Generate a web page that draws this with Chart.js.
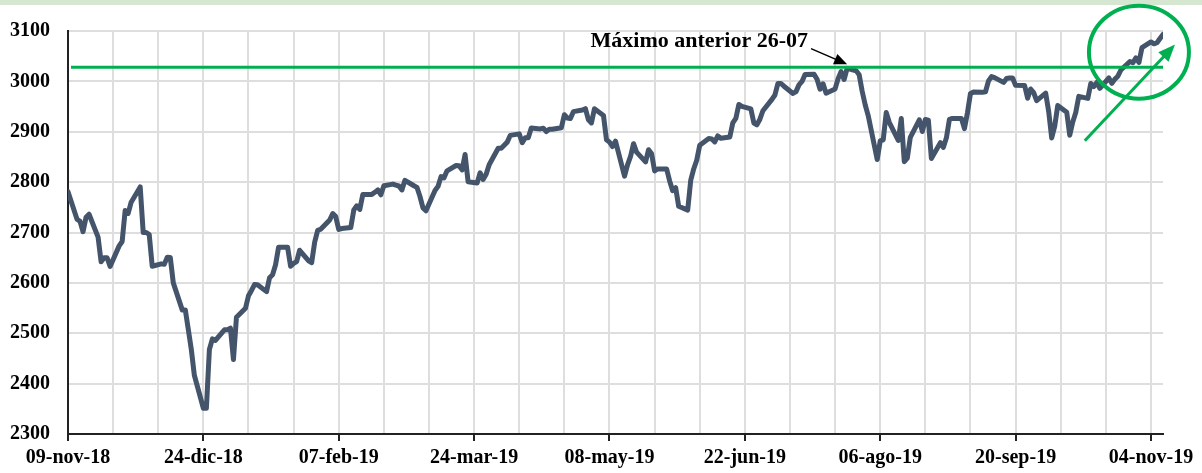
<!DOCTYPE html>
<html>
<head>
<meta charset="utf-8">
<script src="https://cdn.jsdelivr.net/npm/chart.js@4.4.1/dist/chart.umd.min.js"></script>
<style>
  body { margin: 0; background: #fff; }
  canvas { display: block; }
</style>
</head>
<body>
<canvas id="grafico" width="1202" height="473"></canvas>
<script>
// cierres diarios, un valor por dia laborable (los festivos repiten el cierre anterior)
var nov18 = [2781.01, 2726.22, 2722.18, 2701.58, 2730.20, 2736.27, 2690.73, 2641.89, 2649.93, 2649.93,
             2632.56, 2673.45, 2682.17, 2743.79, 2737.80, 2760.17];               // desde el 09-nov
var dic18 = [2790.37, 2700.06, 2700.06, 2695.95, 2633.08, 2637.72, 2636.78, 2651.07, 2650.54, 2599.95,
             2545.94, 2546.16, 2506.96, 2467.42, 2416.62, 2351.10, 2351.10, 2467.70, 2488.83, 2485.74, 2506.85];
var ene19 = [2506.85, 2510.03, 2447.89, 2531.94, 2549.69, 2574.41, 2584.96, 2596.64, 2596.26, 2582.61,
             2610.30, 2616.10, 2635.96, 2670.71, 2670.71, 2632.90, 2638.70, 2642.33, 2664.76, 2643.85,
             2640.00, 2681.05, 2704.10];
var feb19 = [2706.53, 2724.87, 2737.70, 2731.61, 2706.05, 2707.88, 2709.80, 2744.73, 2753.03, 2745.73,
             2775.60, 2775.60, 2779.76, 2784.70, 2774.88, 2792.67, 2796.11, 2793.90, 2792.38, 2784.49];
var mar19 = [2803.69, 2792.81, 2789.65, 2771.45, 2748.93, 2743.07, 2783.30, 2791.52, 2810.92, 2808.48,
             2822.48, 2832.94, 2832.57, 2824.23, 2854.88, 2800.71, 2798.36, 2818.46, 2805.37, 2815.44, 2834.40];
var abr19 = [2867.19, 2867.24, 2873.40, 2879.39, 2892.74, 2895.77, 2878.20, 2888.21, 2888.32, 2907.41,
             2905.58, 2907.06, 2900.45, 2905.03, 2905.03, 2907.97, 2933.68, 2927.25, 2926.17, 2939.88,
             2943.03, 2945.83];
var may19 = [2923.73, 2917.52, 2945.64, 2932.47, 2884.05, 2879.42, 2870.72, 2881.40, 2811.87, 2834.41,
             2850.96, 2876.32, 2859.53, 2840.23, 2864.36, 2856.27, 2822.24, 2826.06, 2826.06, 2802.39,
             2783.02, 2788.86, 2752.06];
var jun19 = [2744.45, 2803.27, 2826.15, 2843.49, 2873.34, 2886.73, 2885.72, 2879.84, 2891.64, 2886.98,
             2889.67, 2917.75, 2926.46, 2954.18, 2950.46, 2945.35, 2917.38, 2913.78, 2924.92, 2941.76];
var jul19 = [2964.33, 2973.01, 2995.82, 2995.82, 2990.41, 2975.95, 2979.63, 2993.07, 2999.91, 3013.77,
             3014.30, 3004.04, 2984.42, 2995.11, 2976.61, 2985.03, 3005.47, 3019.56, 3003.67, 3025.86,
             3020.97, 3013.18, 2980.38];
var ago19 = [2953.56, 2932.05, 2844.74, 2881.77, 2883.98, 2938.09, 2918.65, 2882.70, 2926.32, 2840.60,
             2847.60, 2888.68, 2923.65, 2900.51, 2924.43, 2922.95, 2847.11, 2878.38, 2869.16, 2887.94,
             2924.58, 2926.46];
var sep19 = [2926.46, 2906.27, 2937.78, 2976.00, 2978.71, 2978.43, 2979.39, 3000.93, 3009.57, 3007.39,
             2997.96, 3005.70, 3006.73, 3006.79, 2992.07, 2991.78, 2966.60, 2984.87, 2977.62, 2961.79, 2976.74];
var oct19 = [2940.25, 2887.61, 2910.63, 2952.01, 2938.79, 2893.06, 2919.40, 2938.13, 2970.27, 2966.15,
             2995.68, 2989.69, 2997.95, 2986.20, 3006.72, 2995.99, 3004.52, 3010.29, 3022.55, 3039.42,
             3036.89, 3046.77, 3037.56];
var nov19 = [3066.91, 3078.27, 3074.62, 3076.78, 3085.18, 3093.08];               // hasta el 08-nov

// [año, mes (0-11), primer dia, cierres]
var meses = [[2018, 10, 9, nov18], [2018, 11, 1, dic18], [2019, 0, 1, ene19], [2019, 1, 1, feb19],
             [2019, 2, 1, mar19], [2019, 3, 1, abr19], [2019, 4, 1, may19], [2019, 5, 1, jun19],
             [2019, 6, 1, jul19], [2019, 7, 1, ago19], [2019, 8, 1, sep19], [2019, 9, 1, oct19],
             [2019, 10, 1, nov19]];

var nombresMes = ['ene','feb','mar','abr','may','jun','jul','ago','sep','oct','nov','dic'];
var yTicks = [2300, 3100, 100];          // min, max, paso
var diaFinal = '2019-11-08';

// anotaciones
var maximoAnterior = 3028;               // cierre maximo del 26-07
var textoMaximo = 'Máximo anterior 26-07';
var flechaNegra = [['2019-07-14', 3065], ['2019-07-26', 3034]];
var posTexto = ['2019-07-13', 3079];
var circulo = ['2019-10-31', 3058];
var flechaVerde = [['2019-10-13', 2882], ['2019-11-12', 3073]];

var inicio = Date.UTC(2018, 10, 9);
function diaDe(s) {
    var p = s.split('-');
    return (Date.UTC(+p[0], +p[1] - 1, +p[2]) - inicio) / 86400000;
}
function etiqueta(v) {
    var d = new Date(inicio + v * 86400000);
    var dd = ('0' + d.getUTCDate()).slice(-2);
    return dd + '-' + nombresMes[d.getUTCMonth()] + '-' + String(d.getUTCFullYear()).slice(-2);
}

var puntos = [];
meses.forEach(function(m) {
    var dia = m[2];
    m[3].forEach(function(v) {
        var f = new Date(Date.UTC(m[0], m[1], dia));
        while (f.getUTCDay() == 0 || f.getUTCDay() == 6) {
            dia++;
            f = new Date(Date.UTC(m[0], m[1], dia));
        }
        puntos.push({x: (f.getTime() - inicio) / 86400000, y: v});
        dia++;
    });
});

var verde = '#00B050';
var fuente = '"Liberation Serif", "Times New Roman", serif';

function flecha(ctx, x1, y1, x2, y2, largo, ancho) {
    var a = Math.atan2(y2 - y1, x2 - x1);
    ctx.beginPath();
    ctx.moveTo(x1, y1);
    ctx.lineTo(x2 - Math.cos(a) * largo * 0.8, y2 - Math.sin(a) * largo * 0.8);
    ctx.stroke();
    ctx.beginPath();
    ctx.moveTo(x2, y2);
    ctx.lineTo(x2 - Math.cos(a) * largo + Math.sin(a) * ancho, y2 - Math.sin(a) * largo - Math.cos(a) * ancho);
    ctx.lineTo(x2 - Math.cos(a) * largo - Math.sin(a) * ancho, y2 - Math.sin(a) * largo + Math.cos(a) * ancho);
    ctx.closePath();
    ctx.fill();
}

var notas = {
    id: 'notas',
    beforeDraw: function(chart) {
        var ctx = chart.ctx;
        ctx.save();
        ctx.fillStyle = '#fff';
        ctx.fillRect(0, 0, chart.width, chart.height);
        ctx.fillStyle = '#d5e6d1';
        ctx.fillRect(0, 0, chart.width, 5);
        ctx.restore();
    },
    afterDatasetsDraw: function(chart) {
        var ctx = chart.ctx, x = chart.scales.x, y = chart.scales.y;
        ctx.save();
        // circulo verde
        ctx.strokeStyle = verde;
        ctx.lineWidth = 4;
        ctx.beginPath();
        ctx.ellipse(x.getPixelForValue(diaDe(circulo[0])), y.getPixelForValue(circulo[1]), 50, 46.5, 0, 0, Math.PI * 2);
        ctx.stroke();
        // flecha verde
        ctx.fillStyle = verde;
        ctx.lineWidth = 3;
        flecha(ctx, x.getPixelForValue(diaDe(flechaVerde[0][0])), y.getPixelForValue(flechaVerde[0][1]),
               x.getPixelForValue(diaDe(flechaVerde[1][0])), y.getPixelForValue(flechaVerde[1][1]), 17, 7);
        // flecha negra y texto
        ctx.strokeStyle = '#000';
        ctx.fillStyle = '#000';
        ctx.lineWidth = 1.5;
        flecha(ctx, x.getPixelForValue(diaDe(flechaNegra[0][0])), y.getPixelForValue(flechaNegra[0][1]),
               x.getPixelForValue(diaDe(flechaNegra[1][0])), y.getPixelForValue(flechaNegra[1][1]), 13, 5.5);
        ctx.font = 'bold 22px ' + fuente;
        ctx.textAlign = 'right';
        ctx.textBaseline = 'middle';
        ctx.fillText(textoMaximo, x.getPixelForValue(diaDe(posTexto[0])), y.getPixelForValue(posTexto[1]));
        ctx.restore();
    }
};

var xTicks = [];
for (var t = 0; t <= 360; t += 15) xTicks.push({value: t});

new Chart(document.getElementById('grafico'), {
    type: 'line',
    data: {
        datasets: [{
            label: 'Máximo anterior',
            data: [{x: 1, y: maximoAnterior}, {x: diaDe(diaFinal), y: maximoAnterior}],
            borderColor: verde,
            borderWidth: 3,
            pointRadius: 0,
            order: 1
        }, {
            label: 'Índice',
            data: puntos,
            borderColor: '#44546A',
            borderWidth: 5,
            borderJoinStyle: 'round',
            borderCapStyle: 'round',
            pointRadius: 0,
            tension: 0,
            order: 2
        }]
    },
    options: {
        responsive: false,
        animation: false,
        layout: { padding: { top: 31, right: 39, left: 0, bottom: 0 } },
        plugins: { legend: { display: false }, tooltip: { enabled: false } },
        scales: {
            x: {
                type: 'linear',
                min: 0,
                max: diaDe(diaFinal),
                afterBuildTicks: function(s) { s.ticks = xTicks.slice(); },
                afterFit: function(s) { s.height = 39; },
                ticks: {
                    autoSkip: false,
                    maxRotation: 0,
                    padding: 5,
                    color: '#000',
                    font: { family: fuente, size: 20, weight: 'bold' },
                    callback: function(v) { return v % 45 == 0 ? etiqueta(v) : ''; }
                },
                grid: {
                    color: '#dedede',
                    lineWidth: 2,
                    tickLength: 7,
                    tickWidth: 2,
                    tickColor: function(c) { return c.tick && c.tick.value % 45 == 0 ? '#222' : 'rgba(0,0,0,0)'; }
                },
                border: { color: '#222', width: 2 }
            },
            y: {
                min: yTicks[0],
                max: yTicks[1],
                afterFit: function(s) { s.width = 68; },
                ticks: {
                    stepSize: yTicks[2],
                    padding: 18,
                    color: '#000',
                    font: { family: fuente, size: 20, weight: 'bold' },
                    callback: function(v) { return String(v); }
                },
                grid: { color: '#dedede', lineWidth: 2, drawTicks: false },
                border: { color: '#222', width: 2 }
            }
        }
    },
    plugins: [notas]
});
</script>
</body>
</html>
